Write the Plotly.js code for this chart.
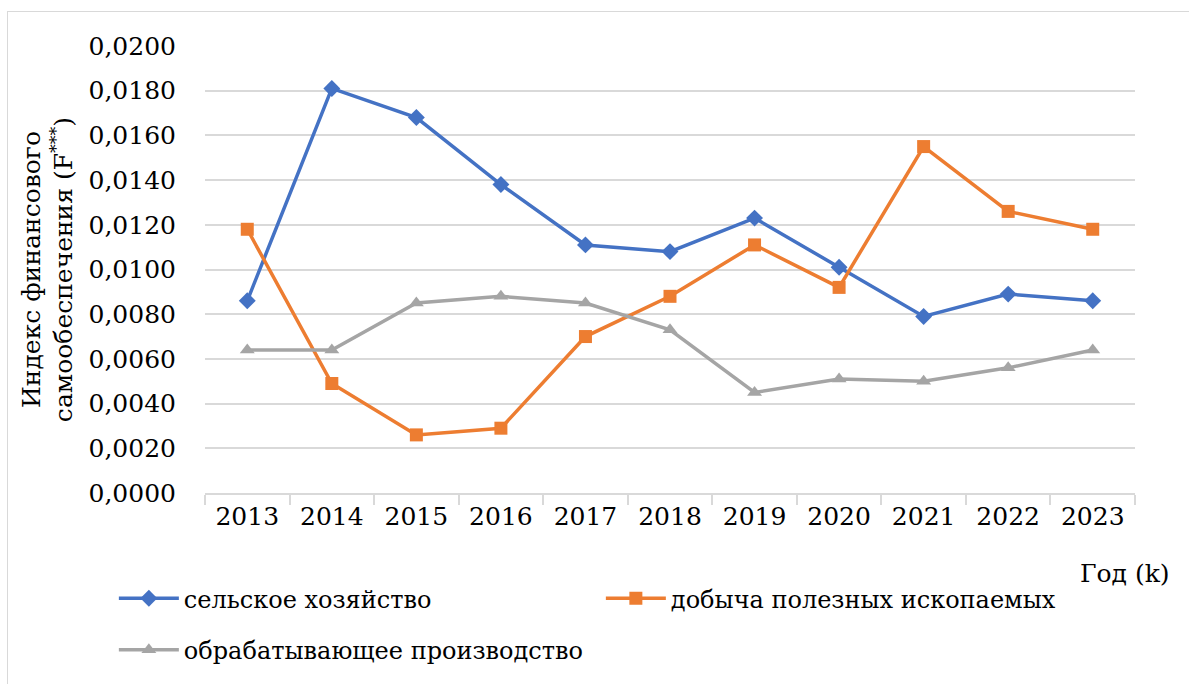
<!DOCTYPE html>
<html>
<head>
<meta charset="utf-8">
<script src="https://cdn.plot.ly/plotly-3.0.1.min.js"></script>
<style>
  body { margin: 0; background: #fff; }
  #chart { position: absolute; left: 0; top: 0; width: 1189px; height: 684px; }
  #frame { position: absolute; left: 7px; top: 11px; width: 1200px; height: 700px;
           border: 1px solid #d9d9d9; pointer-events: none; }
</style>
</head>
<body>
<div id="chart"></div>
<div id="frame"></div>
<script>
var years = ["2013", "2014", "2015", "2016", "2017", "2018", "2019", "2020", "2021", "2022", "2023"];
var agriculture = [0.0086, 0.0181, 0.0168, 0.0138, 0.0111, 0.0108, 0.0123, 0.0101, 0.0079, 0.0089, 0.0086];
var mining = [0.0118, 0.0049, 0.0026, 0.0029, 0.0070, 0.0088, 0.0111, 0.0092, 0.0155, 0.0126, 0.0118];
var manufacturing = [0.0064, 0.0064, 0.0085, 0.0088, 0.0085, 0.0073, 0.0045, 0.0051, 0.0050, 0.0056, 0.0064];

// Liberation Serif does not render here, DejaVu Serif does
var serif = 'DejaVu Serif, serif';

function series(name, y, color, symbol, legend) {
    return {
        x: years, y: y, name: name, legend: legend,
        type: 'scatter', mode: 'lines+markers',
        line: {color: color, width: 3.5},
        marker: {color: color, symbol: symbol, size: 13}
    };
}

// second legend row is a separate legend so the row gap matches
var legendStyle = {
    orientation: 'h', xanchor: 'left', yanchor: 'top', x: -0.098,
    entrywidth: 412, entrywidthmode: 'pixels',
    font: {size: 24, family: serif},
    itemwidth: 60
};

Plotly.newPlot('chart', [
    series('сельское хозяйство', agriculture, '#4472C4', 'diamond', 'legend'),
    series('добыча полезных ископаемых', mining, '#ED7D31', 'square', 'legend'),
    series('обрабатывающее производство', manufacturing, '#A5A5A5', 'triangle-up', 'legend2')
], {
    width: 1189, height: 684,
    margin: {l: 205, r: 54, t: 46, b: 188},
    paper_bgcolor: 'rgba(0,0,0,0)',
    plot_bgcolor: '#fff',
    separators: ', ',
    font: {family: serif, color: '#000', size: 25},
    showlegend: true,
    xaxis: {
        type: 'category',
        range: [-0.5, 10.5],
        tickson: 'boundaries',
        ticks: 'outside', ticklen: 10, tickcolor: '#d9d9d9', tickwidth: 2,
        showline: true, linecolor: '#d9d9d9', linewidth: 2,
        showgrid: false,
        tickfont: {size: 25, family: serif},
        automargin: false
    },
    yaxis: {
        range: [0, 0.02], dtick: 0.002, tickformat: '.4f',
        showgrid: true, gridcolor: '#d9d9d9', gridwidth: 2,
        zeroline: false, showline: false,
        ticks: '', ticklabelstandoff: 28,
        tickfont: {size: 25, family: serif},
        title: {
            text: 'Индекс финансового<br>самообеспечения (F<sup>***</sup>)',
            font: {size: 25, family: serif},
            standoff: 8
        },
        automargin: false
    },
    annotations: [{
        text: 'Год (k)', xref: 'paper', yref: 'paper',
        x: 1.04, y: -0.18, xanchor: 'right', yanchor: 'middle',
        showarrow: false, font: {size: 25, family: serif}
    }],
    legend: Object.assign({y: -0.186}, legendStyle),
    legend2: Object.assign({y: -0.301}, legendStyle)
}, {displayModeBar: false});
</script>
</body>
</html>
